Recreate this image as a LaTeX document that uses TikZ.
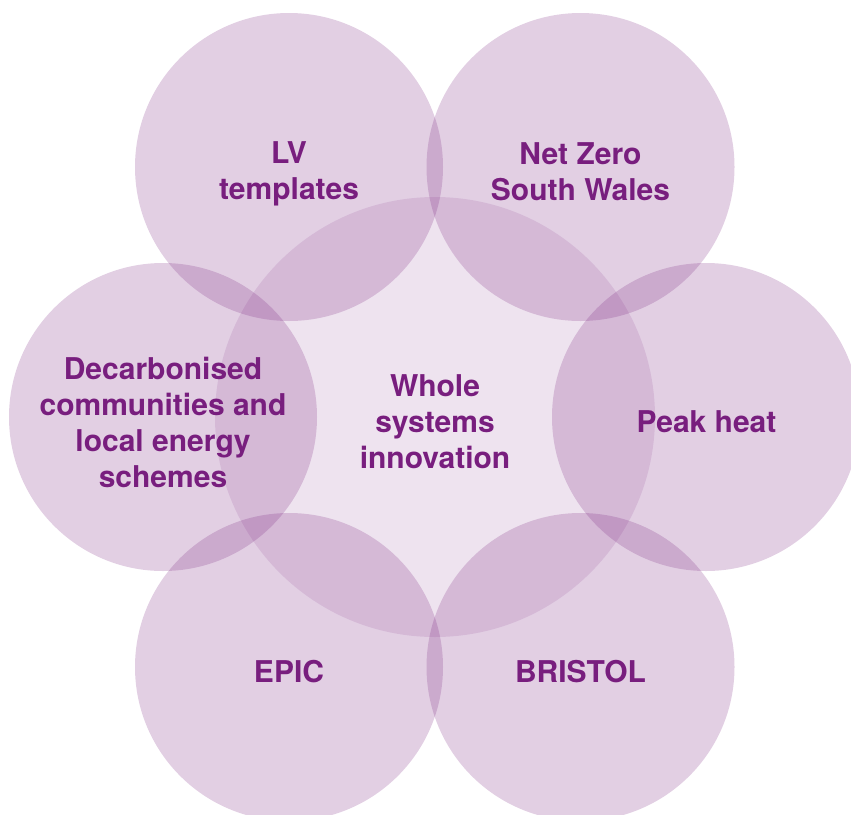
\documentclass[tikz,border=0pt]{standalone}
\usepackage{fontspec}
\setmainfont{TeX Gyre Heros}
\definecolor{txtpurple}{HTML}{781E7E}
\definecolor{basepurple}{HTML}{7B2580}
\begin{document}
\begin{tikzpicture}[x=1pt,y=-1pt,
  outer/.style={fill=basepurple,fill opacity=0.22,draw=none},
  inner/.style={fill=basepurple,fill opacity=0.13,draw=none},
  lbl/.style={text=txtpurple,font=\fontsize{30}{36}\selectfont\bfseries,align=center,inner sep=0pt}]
\useasboundingbox (0,0) rectangle (851,814);
\clip (0,0) rectangle (851,814);
\fill[inner] (435,417) circle[radius=220];
\fill[outer] (289,167) circle[radius=154];
\fill[outer] (580.5,167) circle[radius=154];
\fill[outer] (163,417) circle[radius=154];
\fill[outer] (706,417) circle[radius=154];
\fill[outer] (289,667) circle[radius=154];
\fill[outer] (580.5,667) circle[radius=154];
\node[lbl] (lv) at (289,174) {LV\\templates};
\node[lbl] (nz) at (580.5,171.5) {Net Zero\\South Wales};
\node[lbl] (dc) at (163,422) {Decarbonised\\communities and\\local energy\\schemes};
\node[lbl] (ws) at (435,422) {Whole\\systems\\innovation};
\node[lbl] (ph) at (706.5,422) {Peak heat};
\node[lbl] (ep) at (289,672) {EPIC};
\node[lbl] (br) at (580.5,672) {BRISTOL};
\end{tikzpicture}
\end{document}
